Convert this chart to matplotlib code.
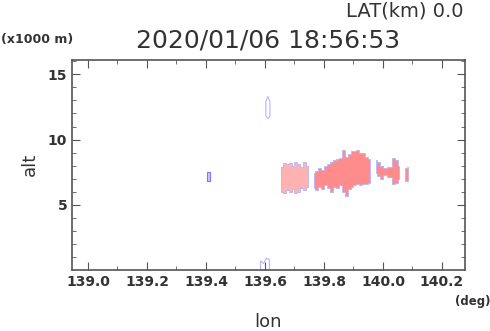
import matplotlib
matplotlib.use("Agg")
import matplotlib.pyplot as plt

# echo columns: longitude (deg), bottom / top altitude (x1000 m)
seg1_lon = [139.655, 139.665, 139.675, 139.685, 139.695, 139.705, 139.715, 139.725, 139.735, 139.745]
seg1_bot = [6.0, 5.9, 6.1, 6.0, 6.2, 5.9, 6.0, 6.3, 6.1, 6.4]
seg1_top = [7.9, 8.2, 8.1, 8.2, 8.0, 8.3, 8.1, 7.9, 8.3, 8.0]

seg2_lon = [139.765, 139.775, 139.785, 139.795, 139.805, 139.815, 139.825, 139.835, 139.845,
            139.855, 139.865, 139.875, 139.885, 139.895, 139.905, 139.915, 139.925, 139.935,
            139.945, 139.955]
seg2_bot = [6.3, 6.1, 6.4, 6.2, 6.5, 6.3, 6.0, 6.4, 6.3, 6.5, 6.0, 5.7, 6.2, 6.4, 6.5, 6.6,
            6.5, 6.6, 6.6, 6.7]
seg2_top = [7.4, 7.6, 7.8, 7.7, 8.0, 8.1, 8.3, 8.4, 8.5, 8.6, 9.2, 8.7, 8.9, 9.1, 9.1, 9.2,
            9.0, 9.0, 8.7, 8.5]

seg3_lon = [139.975, 139.985, 139.995, 140.005, 140.025, 140.035, 140.045, 140.055]
seg3_bot = [7.4, 7.2, 7.0, 7.3, 7.1, 6.6, 6.7, 7.0]
seg3_top = [8.4, 8.3, 8.0, 7.8, 7.9, 8.6, 8.4, 8.0]

seg4_lon = [140.075, 140.085]
seg4_bot = [6.8, 6.8]
seg4_top = [7.8, 7.9]

# weak returns (outline only)
weak_lon = [139.405, 139.415]
weak_bot = [6.8, 6.8]
weak_top = [7.5, 7.5]

ring_lon = [139.603, 139.610, 139.617]
ring_bot = [11.8, 11.6, 11.8]
ring_top = [12.9, 13.3, 12.9]

low_lon = [139.585, 139.595, 139.605, 139.615]
low_bot = [0.0, 0.0, 0.0, 0.0]
low_top = [0.7, 0.5, 0.9, 0.8]

pink = "#ff8c8c"
light = "#ffb2b2"
edge = "#b4b4ff"

fig = plt.figure(figsize=(4.9, 3.31), dpi=100)
ax = fig.add_axes([72 / 490, 1 - 270 / 331, 393 / 490, 210 / 331])

ax.fill_between(seg1_lon, seg1_bot, seg1_top, step="mid", facecolor=light, edgecolor=edge, lw=0.6)
ax.fill_between(seg2_lon, seg2_bot, seg2_top, step="mid", facecolor=pink, edgecolor=edge, lw=0.6)
ax.fill_between(seg3_lon, seg3_bot, seg3_top, step="mid", facecolor=pink, edgecolor=edge, lw=0.6)
ax.fill_between(seg4_lon, seg4_bot, seg4_top, step="mid", facecolor=pink, edgecolor=edge, lw=0.6)
ax.fill_between(weak_lon, weak_bot, weak_top, step="mid", facecolor="#c8c8ff", edgecolor="#7878ff", lw=0.8)
ax.fill_between(ring_lon, ring_bot, ring_top, facecolor="none", edgecolor=edge, lw=0.8)
ax.fill_between(low_lon, low_bot, low_top, facecolor="none", edgecolor=edge, lw=0.8)

ax.set_xlim(138.946, 140.278)
ax.set_ylim(0, 16.1)
ax.set_xticks([139.0, 139.2, 139.4, 139.6, 139.8, 140.0, 140.2])
ax.set_xticks([139.1, 139.3, 139.5, 139.7, 139.9, 140.1], minor=True)
ax.set_yticks([5, 10, 15])
ax.set_yticks([1, 2, 3, 4, 6, 7, 8, 9, 11, 12, 13, 14, 16], minor=True)
ax.set_xticklabels(["139.0", "139.2", "139.4", "139.6", "139.8", "140.0", "140.2"],
                   fontsize=10, fontweight="bold", color="#333333")
ax.set_yticklabels(["5", "10", "15"], fontsize=10, fontweight="bold", color="#333333")
ax.tick_params(which="both", direction="in", top=True, right=True, color="#555555")
ax.tick_params(which="major", length=6)
ax.tick_params(which="minor", length=3)
for s in ax.spines.values():
    s.set_color("#555555")
    s.set_linewidth(1.2)

fig.text(463 / 490, 1 - 11 / 331, "LAT(km) 0.0", ha="right", va="center", fontsize=14, color="#333333")
fig.text(268 / 490, 1 - 41 / 331, "2020/01/06 18:56:53", ha="center", va="center", fontsize=18, color="#333333")
fig.text(1 / 490, 1 - 40 / 331, "(x1000 m)", ha="left", va="center", fontsize=9, fontweight="bold", color="#333333")
fig.text(30 / 490, 1 - 164 / 331, "alt", ha="center", va="center", rotation=90, fontsize=13, color="#333333")
fig.text(268 / 490, 1 - 322 / 331, "lon", ha="center", va="center", fontsize=13, color="#333333")
fig.text(490 / 490, 1 - 301 / 331, "(deg)", ha="right", va="center", fontsize=8.5, fontweight="bold", color="#333333")

fig.savefig("out.png", dpi=100)
